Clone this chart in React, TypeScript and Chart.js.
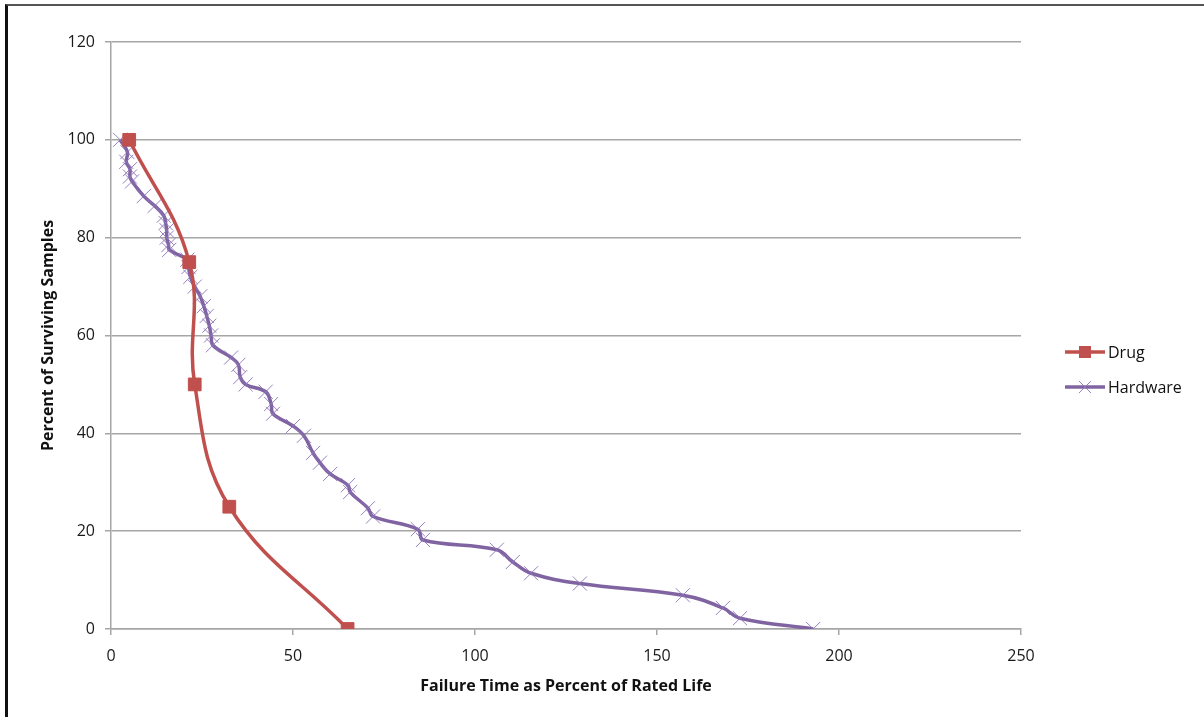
import React, { useEffect, useRef } from "react";
import { Chart, registerables } from "chart.js";

Chart.register(...registerables);

// Drug samples: failure time (% of rated life) vs. percent still surviving
const drugTime = [5, 21.5, 23, 32.5, 65];
const drugSurvival = [100, 75, 50, 25, 0];

// Hardware samples
const hardwareTime = [
  2.5, 4.5, 4.2, 5.2, 5.2, 5.8, 9, 12, 14.5, 15, 15.3, 15.3, 15.8, 16,
  21, 21.3, 21.8, 23, 24.5, 25.5, 26.3, 27, 27.5, 28, 33, 35, 35.5, 37,
  42.5, 44, 44.5, 50, 53, 55.5, 57.4, 60.2, 65.1, 65.7, 70.6, 72, 84.3,
  85.7, 106, 110.4, 115.4, 128.8, 157.1, 168.1, 172.8, 192.9,
];
const hardwareSurvival = [
  100, 97.5, 95.5, 94, 92.5, 91.5, 88.5, 86.5, 84.5, 83, 81.5, 80, 78.5,
  77.5, 75.5, 74, 72, 70, 68, 66, 64, 62, 60, 58, 55.5, 54, 51.5, 50,
  48.5, 46, 44, 41.5, 39.5, 36, 34, 31.7, 29.4, 28, 24.7, 23, 20.4, 18.2,
  16.2, 13.7, 11.4, 9.3, 6.9, 4.3, 2.2, 0,
];

const xTicks = [0, 50, 100, 150, 200, 250];
const yTicks = [0, 20, 40, 60, 80, 100, 120];

const seriesNames = ["Drug", "Hardware"];
const DRUG = "#C0504D";
const HARDWARE = "#8064A2";
const CROSS = "rgba(140,115,185,0.9)";
const FONT = "'Open Sans', Lato, sans-serif";

const pairs = (xs: number[], ys: number[]) => xs.map((x, i) => ({ x, y: ys[i] }));

// Legend on the right: a short line with the series marker, then the name
const sideLegend = {
  id: "sideLegend",
  afterDraw(chart: any) {
    const { ctx, chartArea } = chart;
    const x0 = chartArea.right + 44;
    const rows = [chartArea.top + 310, chartArea.top + 345];
    ctx.save();
    seriesNames.forEach((name, i) => {
      const y = rows[i];
      const color = i === 0 ? DRUG : HARDWARE;
      ctx.strokeStyle = color;
      ctx.lineWidth = 3.5;
      ctx.beginPath();
      ctx.moveTo(x0, y);
      ctx.lineTo(x0 + 40, y);
      ctx.stroke();
      if (i === 0) {
        ctx.fillStyle = color;
        ctx.fillRect(x0 + 14, y - 6, 12, 12);
      } else {
        ctx.strokeStyle = CROSS;
        ctx.lineWidth = 1;
        ctx.beginPath();
        ctx.moveTo(x0 + 14, y - 6);
        ctx.lineTo(x0 + 26, y + 6);
        ctx.moveTo(x0 + 26, y - 6);
        ctx.lineTo(x0 + 14, y + 6);
        ctx.stroke();
      }
      ctx.fillStyle = "#111";
      ctx.font = `16px ${FONT}`;
      ctx.textBaseline = "middle";
      ctx.textAlign = "left";
      ctx.fillText(name, x0 + 43, y + 1);
    });
    ctx.restore();
  },
};

function SurvivalChart() {
  const ref = useRef<HTMLCanvasElement | null>(null);

  useEffect(() => {
    if (!ref.current) return;
    const chart = new Chart(ref.current, {
      type: "scatter",
      data: {
        datasets: [
          {
            label: seriesNames[0],
            data: pairs(drugTime, drugSurvival),
            showLine: true,
            borderColor: DRUG,
            borderWidth: 3.5,
            tension: 0.4,
            pointStyle: "rect",
            pointRadius: 9,
            pointBackgroundColor: DRUG,
            pointBorderColor: DRUG,
            pointBorderWidth: 1,
            order: 1,
          },
          {
            label: seriesNames[1],
            data: pairs(hardwareTime, hardwareSurvival),
            showLine: true,
            borderColor: HARDWARE,
            borderWidth: 3.5,
            tension: 0.4,
            pointStyle: "crossRot",
            pointRadius: 10,
            pointBorderColor: CROSS,
            pointBorderWidth: 1,
            order: 2,
          },
        ],
      },
      options: {
        animation: false,
        responsive: false,
        layout: { padding: { left: 35, top: 42, right: 183, bottom: 17 } },
        plugins: {
          legend: { display: false },
          tooltip: { enabled: false },
        },
        scales: {
          x: {
            type: "linear",
            min: 0,
            max: 250,
            afterBuildTicks: (s: any) => {
              s.ticks = xTicks.map((v) => ({ value: v }));
            },
            afterFit: (s: any) => {
              s.height = 71;
            },
            grid: {
              display: true,
              drawOnChartArea: false,
              drawTicks: true,
              tickLength: 6,
              color: "#a6a6a6",
              lineWidth: 1.5,
            },
            border: { color: "#a6a6a6", width: 1.5 },
            ticks: {
              color: "#1a1a1a",
              font: { family: FONT, size: 16 },
              padding: 12,
              maxRotation: 0,
            },
            title: {
              display: true,
              text: "Failure Time as Percent of Rated Life",
              color: "#111",
              font: { family: FONT, size: 16, weight: "bold" },
              padding: { top: 4, bottom: 4 },
            },
          },
          y: {
            type: "linear",
            min: 0,
            max: 120,
            afterBuildTicks: (s: any) => {
              s.ticks = yTicks.map((v) => ({ value: v }));
            },
            afterFit: (s: any) => {
              s.width = 76;
            },
            grid: {
              color: "#a6a6a6",
              lineWidth: 1.5,
              tickLength: 6,
            },
            border: { color: "#a6a6a6", width: 1.5 },
            ticks: {
              color: "#1a1a1a",
              font: { family: FONT, size: 16 },
              padding: 10,
            },
            title: {
              display: true,
              text: "Percent of Surviving Samples",
              color: "#111",
              font: { family: FONT, size: 16, weight: "bold" },
              padding: { top: 4, bottom: 4 },
            },
          },
        },
      },
      plugins: [sideLegend],
    } as any);
    return () => chart.destroy();
  }, []);

  return (
    <canvas
      ref={ref}
      width={1204}
      height={717}
      style={{ position: "absolute", left: 0, top: 0, width: 1204, height: 717 }}
    />
  );
}

export default function App() {
  return (
    <div
      style={{
        position: "fixed",
        left: 0,
        top: 0,
        width: 1204,
        height: 717,
        background: "#fff",
        overflow: "hidden",
      }}
    >
      <SurvivalChart />
      {/* window frame */}
      <div
        style={{
          position: "absolute",
          left: 5,
          top: 4,
          width: 1199,
          height: 713,
          borderLeft: "3px solid #111",
          borderTop: "2px solid #555",
          boxSizing: "border-box",
          pointerEvents: "none",
        }}
      />
    </div>
  );
}
